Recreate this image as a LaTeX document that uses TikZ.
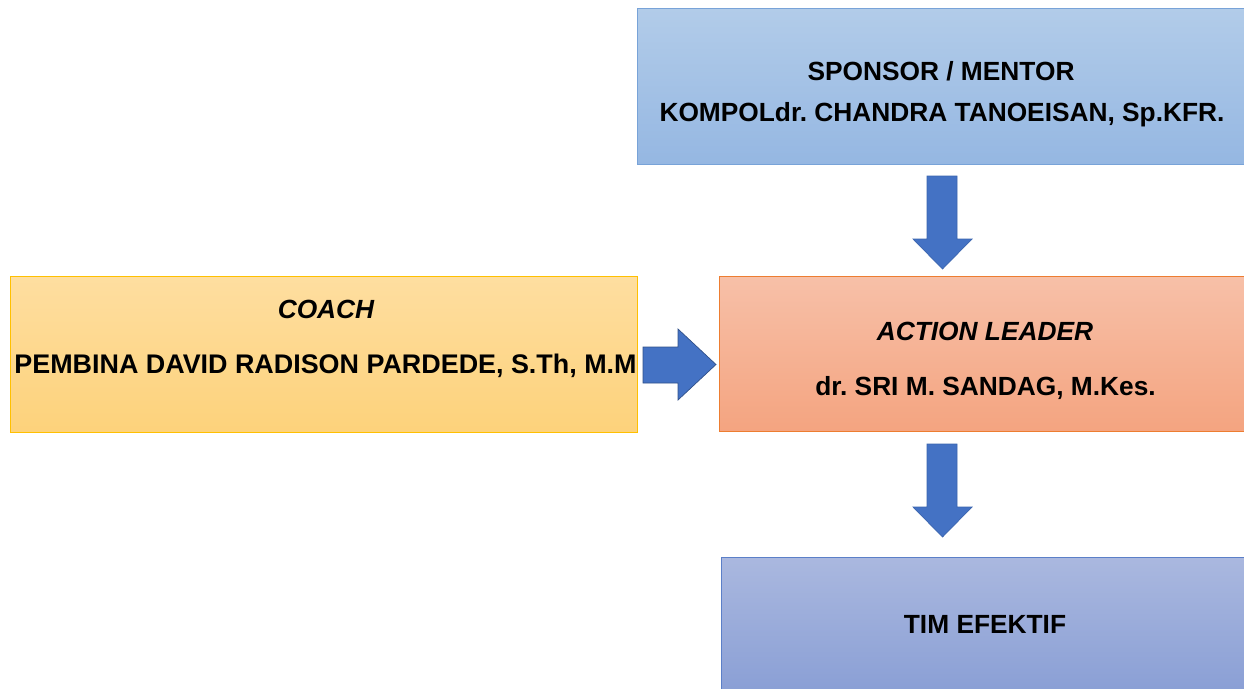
\documentclass[tikz,border=0pt]{standalone}
\usepackage{fontspec}
\setmainfont{Liberation Sans}
\definecolor{arrowblue}{HTML}{4472C4}
\definecolor{arrowedge}{HTML}{3A64AE}
\definecolor{sponTop}{HTML}{B2CCE9}
\definecolor{sponBot}{HTML}{95B7E2}
\definecolor{sponEdge}{HTML}{78A3D8}
\definecolor{coachTop}{HTML}{FEDEA0}
\definecolor{coachBot}{HTML}{FDD27B}
\definecolor{coachEdge}{HTML}{FFC000}
\definecolor{actTop}{HTML}{F7C0A8}
\definecolor{actBot}{HTML}{F4A480}
\definecolor{actEdge}{HTML}{ED7D31}
\definecolor{timTop}{HTML}{AAB8DF}
\definecolor{timBot}{HTML}{8A9FD5}
\definecolor{timEdge}{HTML}{5B7FC8}
\frenchspacing
\begin{document}
\begin{tikzpicture}[x=1pt,y=-1pt,
  box/.style={draw, line width=0.9pt, inner sep=0pt, rectangle},
  txt/.style={font=\fontsize{26.3}{30}\selectfont\bfseries, anchor=base, inner sep=0pt},
  bigtxt/.style={txt, font=\fontsize{26.9}{30}\selectfont\bfseries},
  blockarrow/.style={fill=arrowblue, draw=arrowedge, line width=0.7pt, line join=miter}]
\useasboundingbox (0,0) rectangle (1244,688);

% boxes
\node[box, top color=sponTop, bottom color=sponBot, draw=sponEdge,
      minimum width=609pt, minimum height=156pt] (spon) at (941.5,86) {};
\node[box, top color=coachTop, bottom color=coachBot, draw=coachEdge,
      minimum width=627pt, minimum height=156pt] (coach) at (323.5,354) {};
\node[box, top color=actTop, bottom color=actBot, draw=actEdge,
      minimum width=527pt, minimum height=155pt] (act) at (982.5,353.5) {};
\node[box, top color=timTop, bottom color=timBot, draw=timEdge,
      minimum width=525pt, minimum height=135pt] (tim) at (983.5,624.5) {};

% texts
\node[txt] (sponA) at (941,80) {SPONSOR / MENTOR};
\node[txt] (sponB) at (942,121) {KOMPOLdr. CHANDRA TANOEISAN, Sp.KFR.};
\node[txt] (coachA) at (326,318) {\itshape COACH};
\node[bigtxt] (coachB) at (325.5,373) {PEMBINA DAVID RADISON PARDEDE, S.Th, M.M};
\node[txt] (actA) at (985,340) {\itshape ACTION LEADER};
\node[txt] (actB) at (985.5,395) {dr. SRI M. SANDAG, M.Kes.};
\node[txt] (timA) at (985,633) {TIM EFEKTIF};

% block arrows
\draw[blockarrow] (927,176) -- (957,176) -- (957,239) -- (972,239) -- (942.5,269)
   -- (913,239) -- (927,239) -- cycle;
\draw[blockarrow, draw=arrowblue!70!black] (643,347) -- (678,347) -- (678,329) -- (716,364.5)
   -- (678,400) -- (678,383) -- (643,383) -- cycle;
\draw[blockarrow] (927,444) -- (957,444) -- (957,507) -- (972,507) -- (942.5,537)
   -- (913,507) -- (927,507) -- cycle;
\end{tikzpicture}
\end{document}
